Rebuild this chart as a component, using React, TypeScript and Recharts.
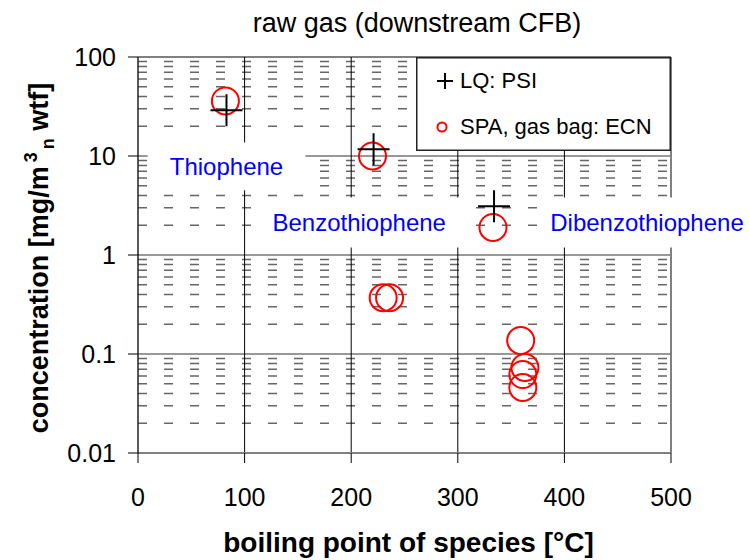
import React from "react";
import { ScatterChart, Scatter, XAxis, YAxis, ReferenceLine, ReferenceArea, Legend } from "recharts";

// boiling point [°C] / concentration [mg/m3n wtf]
const lqBoiling = [83, 221, 334];
const lqConc = [29, 11.7, 3.1];
const spaBoiling = [82, 220, 333, 230, 236, 359, 363, 361, 361];
const spaConc = [36, 10, 1.9, 0.37, 0.37, 0.137, 0.073, 0.062, 0.046];

const xTicks = [0, 100, 200, 300, 400, 500];
const yTicks = [0.01, 0.1, 1, 10, 100];
const minorSteps = [2, 3, 4, 5, 6, 7, 8, 9];

// species annotations, box extents in data units
const speciesNames = ["Thiophene", "Benzothiophene", "Dibenzothiophene"];
const speciesFrom = [9, 108, 382];
const speciesTo = [157, 307, 573];
const speciesLow = [4.5, 1.19, 1.19];
const speciesHigh = [13.7, 3.81, 3.81];

const FONT = "'Liberation Sans', Arial, sans-serif";

const lqData = lqBoiling.map((x, i) => ({ x, y: lqConc[i] }));
const spaData = spaBoiling.map((x, i) => ({ x, y: spaConc[i] }));
const minorY = yTicks.slice(0, 4).flatMap((d) => minorSteps.map((s) => +(d * s).toPrecision(3)));

const Plus = (props: any) => {
    const { cx, cy } = props;
    return (
        <g>
            <line x1={cx - 16} x2={cx + 16} y1={cy} y2={cy} stroke="#000" strokeWidth={2} />
            <line x1={cx} x2={cx} y1={cy - 16} y2={cy + 16} stroke="#000" strokeWidth={2} />
        </g>
    );
};

const Ring = (props: any) => {
    const { cx, cy } = props;
    return <circle cx={cx} cy={cy} r={13.5} fill="none" stroke="#ff0000" strokeWidth={2} />;
};

const LegendBox = () => (
    <svg width={255} height={94} style={{ display: "block" }}>
        <rect x={0.75} y={0.75} width={253.5} height={92.5} fill="#fff" stroke="#222" strokeWidth={1.5} />
        <line x1={21} x2={37} y1={24} y2={24} stroke="#000" strokeWidth={2} />
        <line x1={29} x2={29} y1={16} y2={32} stroke="#000" strokeWidth={2} />
        <text x={44} y={31} fontSize={22} fontFamily={FONT} fill="#000">LQ: PSI</text>
        <circle cx={26} cy={70} r={4.5} fill="none" stroke="#ff0000" strokeWidth={2} />
        <text x={44} y={77} fontSize={22} fontFamily={FONT} fill="#000">SPA, gas bag: ECN</text>
    </svg>
);

const XTitle = (props: any) => {
    const { viewBox } = props;
    return (
        <text x={viewBox.x + viewBox.width / 2 + 4} y={viewBox.y + viewBox.height + 39} textAnchor="middle"
            fontSize={28} fontWeight="bold" fontFamily={FONT} fill="#000">
            boiling point of species [°C]
        </text>
    );
};

const YTitle = (props: any) => {
    const { viewBox } = props;
    const x = viewBox.x + 48;
    const y = 258;
    return (
        <text x={x} y={y} transform={`rotate(-90, ${x}, ${y})`} textAnchor="middle"
            fontSize={27} fontWeight="bold" fontFamily={FONT} fill="#000">
            concentration [mg/m
            <tspan fontSize={18} dx={4} dy={-11}>3</tspan>
            <tspan fontSize={18} dx={3} dy={17}>n</tspan>
            <tspan dy={-6}> wtf]</tspan>
        </text>
    );
};

export default function App() {
    return (
        <div style={{ position: "absolute", left: 0, top: 0 }}>
            <ScatterChart width={749} height={560} margin={{ top: 57, right: 78, bottom: 47, left: 0 }}>
                <text x={417} y={32} textAnchor="middle" fontSize={27} fontFamily={FONT} fill="#000">
                    raw gas (downstream CFB)
                </text>
                <XAxis dataKey="x" type="number" domain={[0, 500]} ticks={xTicks} interval={0} height={60}
                    tickSize={10} tickMargin={25} tick={{ fontSize: 25, fill: "#000", fontFamily: FONT }}
                    axisLine={{ stroke: "#808080", strokeWidth: 2 }} tickLine={{ stroke: "#000" }}
                    label={<XTitle />} />
                <YAxis dataKey="y" type="number" scale="log" domain={[0.01, 100]} ticks={yTicks} interval={0}
                    allowDataOverflow width={138} tickSize={10} tickMargin={12}
                    tickFormatter={(v: number) => String(v)}
                    tick={{ fontSize: 25, fill: "#000", fontFamily: FONT }}
                    axisLine={{ stroke: "#222", strokeWidth: 1.5 }} tickLine={{ stroke: "#000" }}
                    label={<YTitle />} />
                {minorY.map((v) => (
                    <ReferenceLine key={`m${v}`} y={v} stroke="#666" strokeWidth={1.5} strokeDasharray="9 17" zIndex={-20} />
                ))}
                {yTicks.slice(1, 4).map((v) => (
                    <ReferenceLine key={`h${v}`} y={v} stroke="#333" strokeWidth={1.2} zIndex={-10} />
                ))}
                <ReferenceLine y={100} stroke="#808080" strokeWidth={2} zIndex={-10} />
                {xTicks.slice(1, 5).map((v) => (
                    <ReferenceLine key={`v${v}`} x={v} stroke="#000" strokeWidth={1} zIndex={-10} />
                ))}
                <ReferenceLine x={500} stroke="#808080" strokeWidth={2} zIndex={-10} />
                {speciesNames.map((name, i) => (
                    <ReferenceArea key={name} x1={speciesFrom[i]} x2={speciesTo[i]} y1={speciesLow[i]} y2={speciesHigh[i]}
                        ifOverflow="visible" fill="#fff" fillOpacity={1} stroke="none" zIndex={10}
                        label={{ value: name, position: "center", fill: "#0000ff", fontSize: 24, fontFamily: FONT }} />
                ))}
                <Scatter name="SPA, gas bag: ECN" data={spaData} shape={Ring} isAnimationActive={false} />
                <Scatter name="LQ: PSI" data={lqData} shape={Plus} isAnimationActive={false} />
                <Legend layout="vertical" align="center" verticalAlign="middle" content={<LegendBox />}
                    wrapperStyle={{ left: 416, top: 57, width: 255, height: 94 }} />
            </ScatterChart>
        </div>
    );
}
